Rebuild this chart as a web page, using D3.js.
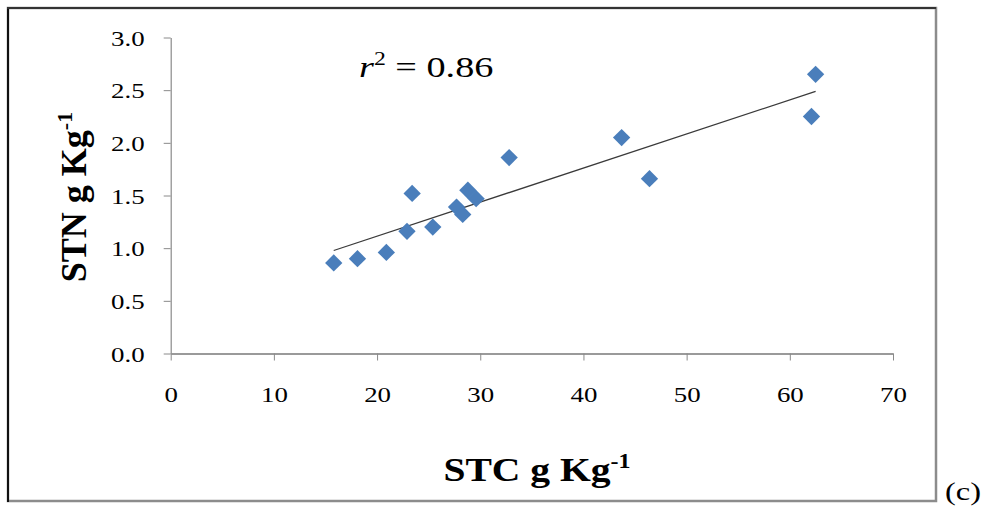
<!DOCTYPE html>
<html>
<head>
<meta charset="utf-8">
<script src="https://cdn.jsdelivr.net/npm/d3@7/dist/d3.min.js"></script>
<style>
  html, body { margin: 0; padding: 0; background: #fff; }
  svg { display: block; }
  text { font-family: "Liberation Serif", "Times New Roman", serif; fill: #000; }
</style>
</head>
<body>
<svg id="chart" width="984" height="508"></svg>
<script>
// Soil total carbon (STC) vs soil total nitrogen (STN), g per kg
const stcValues = [15.8, 18.1, 20.9, 22.9, 23.4, 25.4, 27.7, 28.3, 28.8, 29.6, 32.8, 43.7, 46.4, 62.1, 62.5];
const stnValues = [0.86, 0.90, 0.96, 1.16, 1.52, 1.20, 1.39, 1.32, 1.55, 1.47, 1.86, 2.05, 1.66, 2.25, 2.65];
const xTickValues = [0, 10, 20, 30, 40, 50, 60, 70];
const yTickValues = [0, 0.5, 1.0, 1.5, 2.0, 2.5, 3.0];
const r2Value = 0.86;
const panelLabel = "(c)";

const svg = d3.select("#chart");

const x = d3.scaleLinear().domain([0, 70]).range([170.7, 893]);
const y = d3.scaleLinear().domain([0, 3]).range([353.5, 37.5]);

// Frame around the chart area
svg.append("rect")
  .attr("x", 8).attr("y", 8).attr("width", 928).attr("height", 493)
  .attr("fill", "#fff").attr("stroke", "#8c8c8c").attr("stroke-width", 2.5);
svg.append("line").attr("x1", 8).attr("x2", 8).attr("y1", 7).attr("y2", 502)
  .attr("stroke", "#111").attr("stroke-width", 2);
svg.append("line").attr("x1", 7).attr("x2", 936).attr("y1", 8).attr("y2", 8)
  .attr("stroke", "#333").attr("stroke-width", 2);

// Axes
const yAxis = d3.axisLeft(y).tickValues(yTickValues).tickFormat(d3.format(".1f"))
  .tickSize(7).tickSizeOuter(0);
const xAxis = d3.axisBottom(x).tickValues(xTickValues).tickFormat(d3.format("d"))
  .tickSize(7).tickSizeOuter(0);

const gy = svg.append("g").attr("transform", `translate(${x(0)},0)`).call(yAxis);
gy.select(".domain").attr("stroke", "#8a8a8a").attr("stroke-width", 1.2);
gy.selectAll(".tick line").attr("stroke", "#8a8a8a");
gy.selectAll(".tick text")
  .attr("x", null).attr("dy", null)
  .attr("transform", "translate(-26,7.5) scale(1.28,1)")
  .attr("text-anchor", "end")
  .style("font-family", "'Liberation Serif', serif")
  .style("font-size", "21px").attr("fill", "#1a1a1a");

const gx = svg.append("g").attr("transform", `translate(0,${y(0)})`).call(xAxis);
gx.select(".domain").attr("stroke", "#9a9a9a").attr("stroke-width", 2);
gx.selectAll(".tick line").attr("stroke", "#8a8a8a");
gx.selectAll(".tick text")
  .attr("y", null).attr("dy", null)
  .attr("transform", "translate(0,48.5) scale(1.28,1)")
  .attr("text-anchor", "middle")
  .style("font-family", "'Liberation Serif', serif")
  .style("font-size", "21px").attr("fill", "#1a1a1a");

// Least-squares trend line through the points
const mx = d3.mean(stcValues), my = d3.mean(stnValues);
let sxy = 0, sxx = 0;
stcValues.forEach((v, i) => { sxy += (v - mx) * (stnValues[i] - my); sxx += (v - mx) ** 2; });
const slope = sxy / sxx, intercept = my - slope * mx;
const [xMin, xMax] = d3.extent(stcValues);
svg.append("line")
  .attr("x1", x(xMin)).attr("y1", y(intercept + slope * xMin))
  .attr("x2", x(xMax)).attr("y2", y(intercept + slope * xMax))
  .attr("stroke", "#3a3a3a").attr("stroke-width", 1.3);

// Diamond markers
const diamond = d3.symbol().type(d3.symbolSquare).size(150);
svg.append("g").selectAll("path")
  .data(stcValues.map((v, i) => [v, stnValues[i]]))
  .join("path")
  .attr("d", diamond)
  .attr("transform", d => `translate(${x(d[0])},${y(d[1])}) rotate(45)`)
  .attr("fill", "#4a7ebb");

// Coefficient of determination
const r2 = svg.append("text")
  .attr("transform", "translate(359,77) scale(1.32,1)")
  .style("font-size", "29px").attr("fill", "#2a2a2a");
r2.append("tspan").style("font-style", "italic").text("r");
r2.append("tspan").attr("dy", -12).style("font-size", "18px").text("2");
r2.append("tspan").attr("dy", 12).text(" = " + r2Value.toFixed(2));

// Axis titles
const xt = svg.append("text")
  .attr("transform", "translate(537,481) scale(1.2,1)")
  .attr("text-anchor", "middle")
  .style("font-size", "33px").style("font-weight", "bold");
xt.append("tspan").text("STC g Kg");
xt.append("tspan").attr("dy", -13).style("font-size", "20px").text("-1");

const yt = svg.append("text")
  .attr("transform", "translate(86,197) rotate(-90)")
  .attr("text-anchor", "middle")
  .style("font-size", "36px").style("font-weight", "bold");
yt.append("tspan").text("STN g Kg");
yt.append("tspan").attr("dy", -14).style("font-size", "22px").text("-1");

// Panel label
svg.append("text")
  .attr("transform", "translate(945,500) scale(1.3,1)")
  .style("font-size", "25px").text(panelLabel);
</script>
</body>
</html>
